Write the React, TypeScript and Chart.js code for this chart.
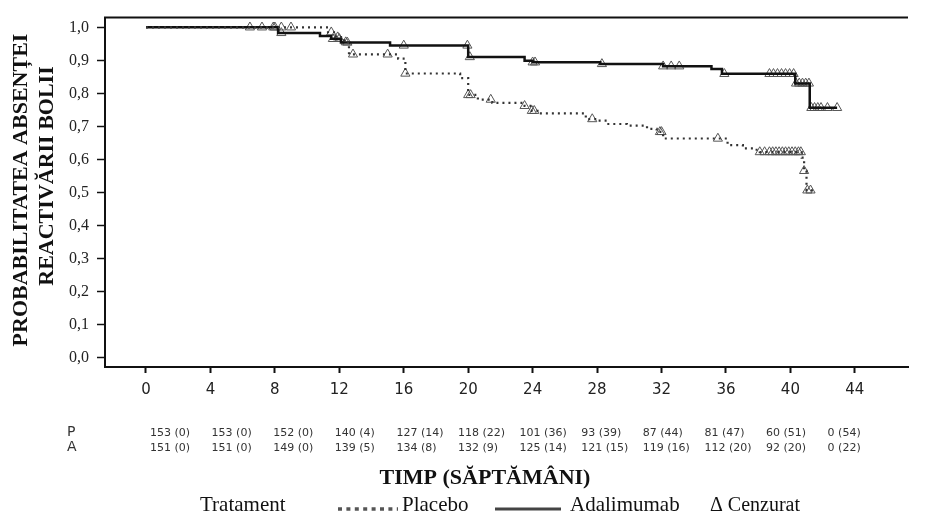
import React, { useEffect, useRef } from 'react';
import { Chart, registerables } from 'chart.js';

Chart.register(...registerables);

// ---- data ----
const X_TICKS = [0, 4, 8, 12, 16, 20, 24, 28, 32, 36, 40, 44];
const Y_TICKS = [0, 0.1, 0.2, 0.3, 0.4, 0.5, 0.6, 0.7, 0.8, 0.9, 1.0];

// Kaplan-Meier step curve: Placebo
const PLACEBO_TIMES = [0, 11.3, 11.8, 12.3, 12.6, 15.65, 16.1, 19.5, 20.0, 20.6, 21.5, 23.5, 23.95, 24.3, 27.3, 28.0, 28.6, 29.85, 31.1, 31.7, 32.1, 36.1, 37.05, 37.7, 38.1, 40.7, 40.85, 41.0, 41.4];
const PLACEBO_SURV = [1.0, 0.985, 0.97, 0.955, 0.918, 0.905, 0.86, 0.846, 0.795, 0.781, 0.771, 0.762, 0.747, 0.739, 0.722, 0.717, 0.707, 0.702, 0.692, 0.683, 0.663, 0.643, 0.633, 0.629, 0.622, 0.605, 0.565, 0.506, 0.506];
const PLACEBO_CENSOR = [6.45, 7.2, 7.9, 8.4, 9.0, 11.5, 11.9, 12.4, 12.85, 15.0, 16.1, 20.0, 20.15, 21.4, 23.5, 23.95, 24.1, 27.7, 31.9, 32.0, 35.5, 38.1, 38.4, 38.7, 38.9, 39.1, 39.3, 39.5, 39.7, 39.9, 40.1, 40.3, 40.5, 40.65, 40.85, 41.05, 41.25];

// Kaplan-Meier step curve: Adalimumab
const ADA_TIMES = [0, 8.2, 10.8, 11.5, 12.1, 15.15, 20.0, 23.5, 24.0, 28.2, 32.1, 35.1, 35.75, 40.3, 41.2, 42.9];
const ADA_SURV = [1.0, 0.983, 0.974, 0.965, 0.954, 0.945, 0.91, 0.899, 0.894, 0.889, 0.882, 0.874, 0.859, 0.83, 0.756, 0.756];
const ADA_CENSOR = [8.0, 8.4, 11.6, 12.0, 12.5, 16.0, 19.95, 20.1, 24.0, 24.15, 28.3, 32.1, 32.6, 33.1, 35.9, 38.7, 38.95, 39.2, 39.45, 39.7, 39.95, 40.2, 40.35, 40.55, 40.75, 40.95, 41.15, 41.3, 41.5, 41.7, 41.9, 42.3, 42.9];

// numbers at risk (events)
const AT_RISK_P = ['153 (0)', '153 (0)', '152 (0)', '140 (4)', '127 (14)', '118 (22)', '101 (36)', '93 (39)', '87 (44)', '81 (47)', '60 (51)', '0 (54)'];
const AT_RISK_A = ['151 (0)', '151 (0)', '149 (0)', '139 (5)', '134 (8)', '132 (9)', '125 (14)', '121 (15)', '119 (16)', '112 (20)', '92 (20)', '0 (22)'];
const ROW_LABELS = ['P', 'A'];

const Y_TITLE = ['PROBABILITATEA ABSENȚEI', 'REACTIVĂRII BOLII'];
const X_TITLE = 'TIMP (SĂPTĂMÂNI)';
const LEGEND_TITLE = 'Tratament';
const SERIES_NAMES = ['Placebo', 'Adalimumab'];
const CENSOR_LABEL = 'Δ Cenzurat';

const SERIF = "'Liberation Serif', 'Times New Roman', serif";
const SANS = "'DejaVu Sans', Verdana, sans-serif";

function stepAt(times: number[], surv: number[], t: number): number {
  let v = surv[0];
  for (let i = 0; i < times.length; i++) {
    if (times[i] <= t + 1e-9) v = surv[i];
  }
  return v;
}

const overlay = {
  id: 'overlay',
  afterDraw(chart: any) {
    const ctx: CanvasRenderingContext2D = chart.ctx;
    const ca = chart.chartArea;
    ctx.save();
    // top frame line
    ctx.strokeStyle = '#111';
    ctx.lineWidth = 2;
    ctx.beginPath();
    ctx.moveTo(ca.left - 1, ca.top);
    ctx.lineTo(ca.right, ca.top);
    ctx.stroke();

    ctx.fillStyle = '#111';
    // y title
    ctx.font = `bold 22px ${SERIF}`;
    ctx.textAlign = 'center';
    ctx.textBaseline = 'alphabetic';
    ctx.save();
    ctx.translate(27, 190);
    ctx.rotate(-Math.PI / 2);
    ctx.fillText(Y_TITLE[0], 0, 0);
    ctx.restore();
    ctx.save();
    ctx.translate(53, 176);
    ctx.rotate(-Math.PI / 2);
    ctx.fillText(Y_TITLE[1], 0, 0);
    ctx.restore();

    // at-risk table
    ctx.fillStyle = '#333';
    ctx.font = `14px ${SANS}`;
    ctx.textAlign = 'left';
    ctx.textBaseline = 'middle';
    ctx.fillText(ROW_LABELS[0], 67, 432);
    ctx.fillText(ROW_LABELS[1], 67, 447);
    ctx.font = `11px ${SANS}`;
    for (let i = 0; i < AT_RISK_P.length; i++) {
      const x = 150 + i * 61.6;
      ctx.fillText(AT_RISK_P[i], x, 433);
      ctx.fillText(AT_RISK_A[i], x, 448);
    }

    // x title
    ctx.fillStyle = '#111';
    ctx.font = `bold 22px ${SERIF}`;
    ctx.textAlign = 'center';
    ctx.textBaseline = 'alphabetic';
    ctx.fillText(X_TITLE, 485, 484);

    // legend
    ctx.font = `21px ${SERIF}`;
    ctx.textAlign = 'left';
    ctx.fillText(LEGEND_TITLE, 200, 511);
    ctx.strokeStyle = '#555';
    ctx.lineWidth = 3.5;
    ctx.setLineDash([4, 4.4]);
    ctx.beginPath();
    ctx.moveTo(338, 509);
    ctx.lineTo(398, 509);
    ctx.stroke();
    ctx.setLineDash([]);
    ctx.fillText(SERIES_NAMES[0], 402, 511);
    ctx.strokeStyle = '#444';
    ctx.lineWidth = 3;
    ctx.beginPath();
    ctx.moveTo(495, 509);
    ctx.lineTo(561, 509);
    ctx.stroke();
    ctx.fillText(SERIES_NAMES[1], 570, 511);
    ctx.font = `20px ${SERIF}`;
    ctx.fillText(CENSOR_LABEL, 710, 511);
    ctx.restore();
  },
};

export default function App() {
  const ref = useRef<HTMLCanvasElement | null>(null);

  useEffect(() => {
    if (!ref.current) return;
    const placeboLine = PLACEBO_TIMES.map((t, i) => ({ x: t, y: PLACEBO_SURV[i] }));
    const adaLine = ADA_TIMES.map((t, i) => ({ x: t, y: ADA_SURV[i] }));
    const placeboCens = PLACEBO_CENSOR.map((t) => ({ x: t, y: stepAt(PLACEBO_TIMES, PLACEBO_SURV, t) }));
    const adaCens = ADA_CENSOR.map((t) => ({ x: t, y: stepAt(ADA_TIMES, ADA_SURV, t) }));

    const chart = new Chart(ref.current, {
      type: 'line',
      data: {
        datasets: [
          {
            label: 'Placebo',
            data: placeboLine,
            stepped: true,
            borderColor: '#333',
            borderWidth: 2.2,
            borderDash: [2, 4],
            pointRadius: 0,
            fill: false,
          },
          {
            label: 'Adalimumab',
            data: adaLine,
            stepped: true,
            borderColor: '#111',
            borderWidth: 2.5,
            pointRadius: 0,
            fill: false,
          },
          {
            label: 'Cenzurat P',
            data: placeboCens,
            showLine: false,
            pointStyle: 'triangle',
            pointRadius: 5.3,
            pointBorderWidth: 1,
            pointBorderColor: '#555',
            pointBackgroundColor: 'rgba(255,255,255,0)',
          },
          {
            label: 'Cenzurat A',
            data: adaCens,
            showLine: false,
            pointStyle: 'triangle',
            pointRadius: 5.3,
            pointBorderWidth: 1,
            pointBorderColor: '#555',
            pointBackgroundColor: 'rgba(255,255,255,0)',
          },
        ] as any,
      },
      options: {
        responsive: false,
        animation: false,
        events: [],
        layout: { padding: { left: 0, top: 7, right: 18, bottom: 0 } },
        plugins: { legend: { display: false }, tooltip: { enabled: false } },
        scales: {
          x: {
            type: 'linear',
            min: -2.545,
            max: 47.3,
            afterBuildTicks: (s: any) => {
              s.ticks = X_TICKS.map((v) => ({ value: v }));
            },
            afterFit: (s: any) => {
              s.height = 162;
            },
            ticks: {
              autoSkip: false,
              maxRotation: 0,
              padding: 8,
              color: '#222',
              font: { family: SANS, size: 15 },
              callback: (v: any) => String(v),
            },
            grid: { drawOnChartArea: false, drawTicks: true, tickLength: 6, tickWidth: 2, color: '#111' },
            border: { display: true, color: '#111', width: 2 },
          },
          y: {
            type: 'linear',
            min: -0.0294,
            max: 1.0294,
            afterBuildTicks: (s: any) => {
              s.ticks = Y_TICKS.map((v) => ({ value: v }));
            },
            afterFit: (s: any) => {
              s.width = 105;
            },
            ticks: {
              autoSkip: false,
              padding: 8,
              color: '#222',
              font: { family: SERIF, size: 16 },
              callback: (v: any) => Number(v).toFixed(1).replace('.', ','),
            },
            grid: { drawOnChartArea: false, drawTicks: true, tickLength: 8, tickWidth: 1.5, color: '#111' },
            border: { display: true, color: '#111', width: 2 },
          },
        },
      } as any,
      plugins: [overlay],
    });
    return () => chart.destroy();
  }, []);

  return (
    <div style={{ position: 'absolute', left: 0, top: 0, width: 926, height: 529, background: '#fff' }}>
      <canvas ref={ref} width={926} height={529} style={{ width: 926, height: 529, display: 'block' }} />
    </div>
  );
}
